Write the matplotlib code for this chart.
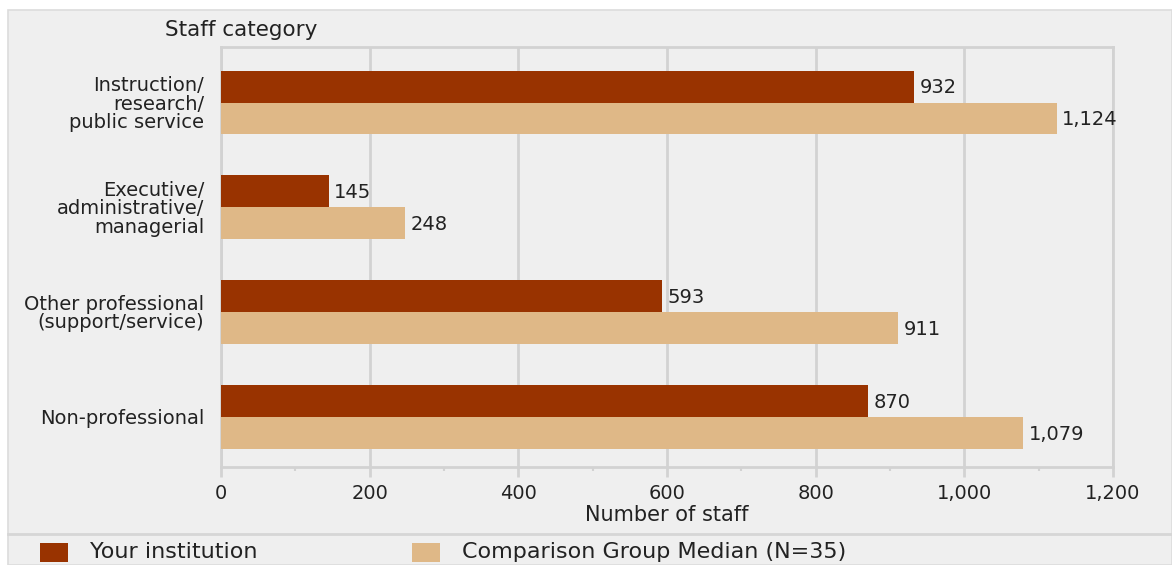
import matplotlib
matplotlib.use("Agg")
from matplotlib import pyplot as plt
from matplotlib.patches import Rectangle
from matplotlib.lines import Line2D
from matplotlib.ticker import MultipleLocator, FuncFormatter

# Datos del gráfico
categorias = ["Instruction/\nresearch/\npublic service",
              "Executive/\nadministrative/\nmanagerial",
              "Other professional\n(support/service)",
              "Non-professional"]
tu_institucion = [932, 145, 593, 870]
mediana_grupo = [1124, 248, 911, 1079]
series = ["Your institution", "Comparison Group Median (N=35)"]

color_rojo = "#993300"
color_tan = "#dfb887"
fondo = "#efefef"
gris = "#d2d2d2"
texto = "#222222"

plt.rcParams['font.family'] = ['DejaVu Sans']
tam = 14

W, H = 1172, 565
fig = plt.figure(figsize=(W / 100, H / 100), dpi=100, facecolor="white")

# Panel gris de fondo
fig.patches.append(Rectangle((8 / W, 0), 1 - 8 / W, (H - 10) / H, transform=fig.transFigure,
                             facecolor=fondo, edgecolor="#dcdcdc", linewidth=1.2, zorder=-2))
# Línea separadora de la leyenda
fig.lines.append(Line2D([8 / W, 1], [(H - 534) / H] * 2, transform=fig.transFigure,
                        color="#d6d6d6", linewidth=2, zorder=-1))

ax = fig.add_axes([221 / W, (H - 467) / H, (1113 - 221) / W, (467 - 47) / H])
ax.set_facecolor(fondo)

ys = list(range(len(categorias)))
alto = 0.305
ax.barh([y - alto / 2 for y in ys], tu_institucion, height=alto, color=color_rojo, zorder=3)
ax.barh([y + alto / 2 for y in ys], mediana_grupo, height=alto, color=color_tan, zorder=3)

# Etiquetas con los valores
for y, v in zip(ys, tu_institucion):
    ax.annotate(f"{v:,}", (v, y - alto / 2), xytext=(4, -1), textcoords="offset points",
                va="center", ha="left", fontsize=tam, color=texto)
for y, v in zip(ys, mediana_grupo):
    ax.annotate(f"{v:,}", (v, y + alto / 2), xytext=(4, -1), textcoords="offset points",
                va="center", ha="left", fontsize=tam, color=texto)

ax.set_xlim(0, 1200)
ax.set_ylim(3.48, -0.53)
ax.xaxis.set_major_locator(MultipleLocator(200))
ax.xaxis.set_minor_locator(MultipleLocator(100))
ax.xaxis.set_major_formatter(FuncFormatter(lambda v, p: f"{int(v):,}"))
ax.grid(axis="x", color=gris, linewidth=2, zorder=1)
ax.tick_params(axis="x", which="major", length=7, width=2, color=gris, pad=5,
               labelsize=tam, labelcolor=texto)
ax.tick_params(axis="x", which="minor", length=3, width=1.5, color=gris)

ax.set_yticks(ys)
ax.set_yticklabels(categorias, fontsize=tam, color=texto, linespacing=0.95)
ax.tick_params(axis="y", length=0, pad=12)

for s in ["top", "left", "bottom", "right"]:
    ax.spines[s].set_color(gris)
    ax.spines[s].set_linewidth(2)

ax.set_xlabel("Number of staff", fontsize=tam + 1, color=texto, labelpad=2)
fig.text(165 / W, (H - 30) / H, "Staff category", fontsize=tam + 1.5, color=texto, va="center", ha="left")

# Leyenda
fig.patches.append(Rectangle((40 / W, (H - 562) / H), 28 / W, 19 / H, transform=fig.transFigure,
                             facecolor=color_rojo, edgecolor="none"))
fig.text(90 / W, (H - 552) / H, series[0], fontsize=tam + 2, color=texto, va="center")
fig.patches.append(Rectangle((412 / W, (H - 562) / H), 28 / W, 19 / H, transform=fig.transFigure,
                             facecolor=color_tan, edgecolor="none"))
fig.text(462 / W, (H - 552) / H, series[1], fontsize=tam + 2, color=texto, va="center")

plt.savefig("out.png", dpi=100, facecolor="white")
